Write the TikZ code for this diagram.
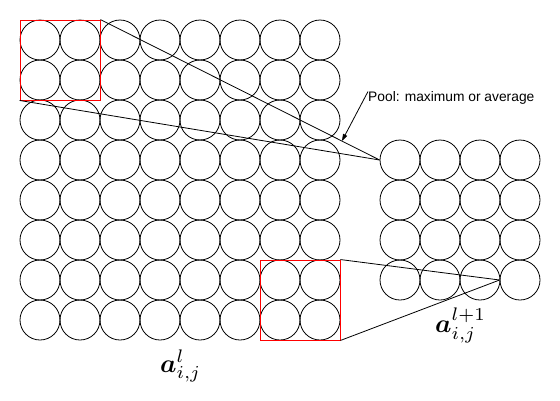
\documentclass[tikz,border=0pt]{standalone}
\usepackage{graphicx}
\usepackage{bm}
\usepackage{fontspec}
\setsansfont{Liberation Sans}
\usetikzlibrary{arrows.meta,positioning,calc}

\begin{document}
\begin{tikzpicture}[
  x=1pt, y=-1pt,
  >={Triangle[length=7pt, width=4.5pt]},
  unit/.style={circle, draw=black, line width=0.8pt, minimum size=40pt, inner sep=0pt},
  window/.style={rectangle, draw=red, line width=0.9pt, minimum size=80pt, inner sep=0pt},
  link/.style={draw=black, line width=0.8pt},
  lbl/.style={font=\sffamily\fontsize{13.8}{16}\selectfont, inner sep=0pt},
  act/.style={inner sep=0pt},
]
\useasboundingbox (0,0) rectangle (560,400);

% layer l: 8x8 units
\foreach \r in {1,...,8}{
  \foreach \c in {1,...,8}{
    \node[unit] (a-\r-\c) at (40*\c, 40*\r) {};
  }
}
% layer l+1: 4x4 units
\foreach \r in {1,...,4}{
  \foreach \c in {1,...,4}{
    \node[unit] (b-\r-\c) at (360+40*\c, 120+40*\r) {};
  }
}

% pooling windows
\node[window] (win1) at (60,60) {};
\node[window] (win2) at (300,300) {};

\draw[link] (win1.north east) -- (b-1-1.west);
\draw[link] (win1.south west) -- (b-1-1.west);
\draw[link] (win2.north east) -- (b-4-4.west);
\draw[link] (win2.south east) -- (b-4-4.west);

\node[lbl, anchor=base west] (pool) at (368,101.7) {Pool: maximum or average};
\coordinate (hit) at ($(win1.north east)!0.865!(b-1-1.west)$);
\draw[link, ->] (pool.north west) -- (hit);

\node[act, anchor=base west] (al) at (160,372) {\scalebox{2.6}{$\bm{a}^{l}_{i,j}$}};
\node[act, anchor=base west] (anext) at (435,332) {\scalebox{2.6}{$\bm{a}^{l+1}_{i,j}$}};

\end{tikzpicture}
\end{document}
